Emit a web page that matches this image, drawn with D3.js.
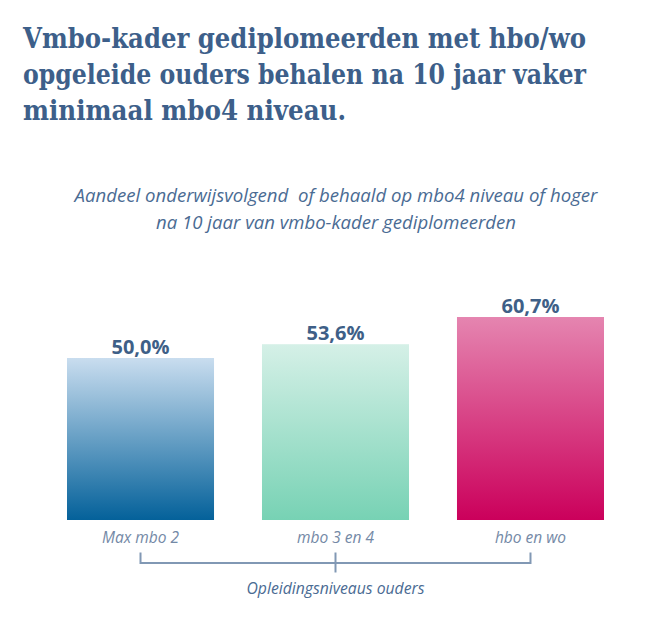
<!DOCTYPE html>
<html><head><meta charset="utf-8">
<script src="https://cdn.jsdelivr.net/npm/d3@7"></script>
<style>body{margin:0;background:#fff}svg{display:block}</style>
</head><body>
<script>
const categories = ["Max mbo 2", "mbo 3 en 4", "hbo en wo"];
const values = [50.0, 53.6, 60.7];
const valueLabels = ["50,0%", "53,6%", "60,7%"];
const titleLines = ["Vmbo-kader gediplomeerden met hbo/wo", "opgeleide ouders behalen na 10 jaar vaker", "minimaal mbo4 niveau."];
const subtitleLines = ["Aandeel onderwijsvolgend  of behaald op mbo4 niveau of hoger", "na 10 jaar van vmbo-kader gediplomeerden"];
const axisTitle = "Opleidingsniveaus ouders";
const gradTop = ["#c9ddef", "#d5f0e7", "#e585b0"];
const gradBottom = ["#04619a", "#77d2b4", "#cb005b"];

const W = 671, H = 625;
const svg = d3.select("body").append("svg").attr("width", W).attr("height", H);

function fit(sel, target) {
  const n = sel.node(); const w = n.getComputedTextLength();
  const fs = parseFloat(sel.attr("font-size"));
  sel.attr("font-size", (fs * target / w).toFixed(2));
}

// Title
const titleY = [48, 84, 120];
const titleW = [563, 563, 323];
titleLines.forEach((t, i) => {
  svg.append("text").attr("x", 23).attr("y", titleY[i])
    .attr("font-family", "'DejaVu Serif Condensed', 'DejaVu Serif', serif").attr("font-weight", "bold")
    .attr("font-size", 28).attr("fill", "#3d5f8a")
    .attr("textLength", titleW[i]).attr("lengthAdjust", "spacingAndGlyphs").text(t);
});

// Subtitle
const subY = [202, 229];
const subW = [523, 360];
subtitleLines.forEach((t, i) => {
  const s = svg.append("text").attr("x", 336).attr("y", subY[i]).attr("text-anchor", "middle")
    .attr("font-family", "'Open Sans', sans-serif").attr("font-style", "italic")
    .attr("font-size", 17).attr("fill", "#4a6b93").attr("xml:space", "preserve").style("white-space", "pre").text(t);
  fit(s, subW[i]);
});

// Scales
const x = d3.scaleBand().domain(categories).range([37.75, 633.25]).paddingInner(0.246).paddingOuter(0.15);
const y = d3.scaleLinear().domain([7.7, 70]).range([520, 520 - 3.83 * 62.3]);

const defs = svg.append("defs");
categories.forEach((c, i) => {
  const g = defs.append("linearGradient").attr("id", "g" + i).attr("x1", 0).attr("y1", 0).attr("x2", 0).attr("y2", 1);
  g.append("stop").attr("offset", "0%").attr("stop-color", gradTop[i]);
  g.append("stop").attr("offset", "100%").attr("stop-color", gradBottom[i]);
});

svg.selectAll("rect.bar").data(values).join("rect").attr("class", "bar")
  .attr("x", (d, i) => x(categories[i])).attr("width", x.bandwidth())
  .attr("y", d => y(d)).attr("height", d => y(y.domain()[0]) - y(d))
  .attr("fill", (d, i) => `url(#g${i})`);

svg.selectAll("text.val").data(values).join("text").attr("class", "val")
  .attr("x", (d, i) => x(categories[i]) + x.bandwidth() / 2).attr("y", d => y(d) - 4)
  .attr("text-anchor", "middle").attr("font-family", "'Open Sans', sans-serif").attr("font-weight", "bold")
  .attr("font-size", 20).attr("fill", "#3e5f87").text((d, i) => valueLabels[i]);

// Category labels
const catSel = svg.selectAll("text.cat").data(categories).join("text").attr("class", "cat")
  .attr("x", d => x(d) + x.bandwidth() / 2).attr("y", 543).attr("text-anchor", "middle")
  .attr("font-family", "'Open Sans', sans-serif").attr("font-style", "italic")
  .attr("font-size", 15).attr("fill", "#7489a6").text(d => d);
const w0 = catSel.node().getComputedTextLength();
catSel.attr("font-size", (15 * 77 / w0).toFixed(2));

// Bracket
const cx = categories.map(d => x(d) + x.bandwidth() / 2);
const br = svg.append("g").attr("stroke", "#8198b4").attr("stroke-width", 2).attr("fill", "none");
br.append("path").attr("d", `M${cx[0]},552.5V563H${cx[2]}V552.5`);
br.append("line").attr("x1", cx[1]).attr("x2", cx[1]).attr("y1", 552.5).attr("y2", 572.5);

const at = svg.append("text").attr("x", cx[1]).attr("y", 594).attr("text-anchor", "middle")
  .attr("font-family", "'Open Sans', sans-serif").attr("font-style", "italic")
  .attr("font-size", 16).attr("fill", "#4a6b93").text(axisTitle);
fit(at, 178);
</script>
</body></html>
